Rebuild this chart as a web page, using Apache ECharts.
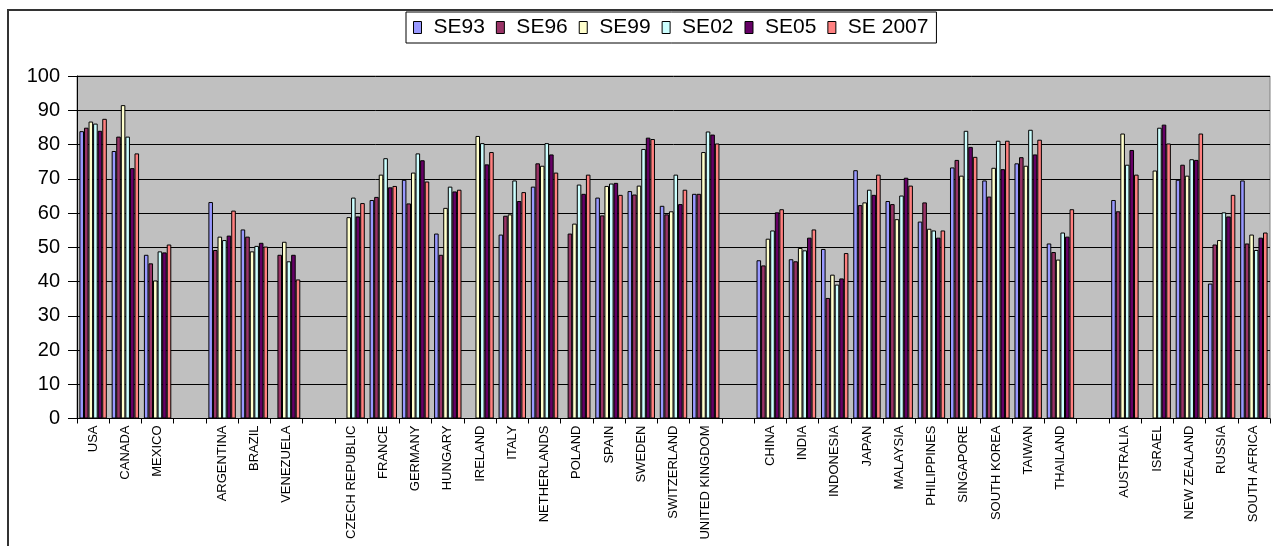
<!DOCTYPE html>
<html>
<head>
<meta charset="utf-8">
<title>SE survey by country</title>
<script src="https://cdn.jsdelivr.net/npm/echarts@6/dist/echarts.min.js"></script>
<style>
  html, body { margin: 0; padding: 0; background: #fff; }
  #chart { width: 1273px; height: 546px; }
</style>
</head>
<body>
<div id="chart"></div>
<script>
// Countries, with blank slots separating the regional groups
const categories = ['USA', 'CANADA', 'MEXICO', '',
  'ARGENTINA', 'BRAZIL', 'VENEZUELA', '',
  'CZECH REPUBLIC', 'FRANCE', 'GERMANY', 'HUNGARY', 'IRELAND', 'ITALY', 'NETHERLANDS',
  'POLAND', 'SPAIN', 'SWEDEN', 'SWITZERLAND', 'UNITED KINGDOM', '',
  'CHINA', 'INDIA', 'INDONESIA', 'JAPAN', 'MALAYSIA', 'PHILIPPINES', 'SINGAPORE',
  'SOUTH KOREA', 'TAIWAN', 'THAILAND', '',
  'AUSTRALIA', 'ISRAEL', 'NEW ZEALAND', 'RUSSIA', 'SOUTH AFRICA'];

const seriesNames = ['SE93', 'SE96', 'SE99', 'SE02', 'SE05', 'SE 2007'];

const se93 = [83.9, 78.1, 47.8, null, 63.2, 55.2, null, null,
  null, 63.8, 69.7, 54.0, null, 53.7, 67.7, null, 64.5, 66.4, 62.1, 65.6, null,
  46.2, 46.5, 49.5, 72.5, 63.5, 57.5, 73.3, 69.5, 74.5, 51.1, null,
  63.8, null, 69.7, 39.4, 69.5];
const se96 = [84.9, 82.3, 45.3, null, 49.2, 53.1, 47.8, null,
  null, 64.7, 62.8, 47.8, null, 59.2, 74.5, 54.0, 59.3, 65.4, 59.6, 65.6, null,
  44.7, 45.9, 35.2, 62.3, 62.6, 63.1, 75.5, 64.8, 76.3, 48.6, null,
  60.5, null, 74.1, 50.8, 51.1];
const se99 = [86.7, 91.5, 40.3, null, 53.1, 48.8, 51.6, null,
  58.8, 71.2, 71.8, 61.5, 82.5, 59.6, 73.8, 56.9, 67.9, 68.0, 60.5, 77.8, null,
  52.5, 49.8, 42.0, 63.1, 58.2, 55.4, 70.9, 73.2, 73.8, 46.4, null,
  83.2, 72.4, 70.9, 52.1, 53.7];
const se02 = [86.1, 82.3, 48.8, null, 52.1, 50.4, 45.9, null,
  64.5, 76.0, 77.4, 67.7, 80.4, 69.5, 80.4, 68.3, 68.6, 78.7, 71.2, 83.8, null,
  54.9, 49.1, 39.1, 66.8, 65.1, 54.9, 84.0, 81.1, 84.3, 54.3, null,
  74.1, 84.9, 75.7, 60.2, 49.2];
const se05 = [84.0, 73.1, 48.5, null, 53.4, 51.3, 47.8, null,
  59.0, 67.5, 75.4, 66.3, 74.2, 63.5, 77.1, 65.6, 68.8, 82.0, 62.6, 82.9, null,
  60.2, 52.8, 40.9, 65.3, 70.3, 52.8, 79.3, 72.8, 77.1, 53.1, null,
  78.4, 85.8, 75.5, 59.0, 52.8];
const se2007 = [87.5, 77.4, 50.8, null, 60.7, 50.2, 40.6, null,
  62.9, 67.9, 69.2, 66.8, 77.8, 66.1, 71.8, 71.2, 65.3, 81.6, 66.8, 80.3, null,
  61.1, 55.2, 48.3, 71.2, 68.0, 54.9, 76.4, 81.1, 81.4, 61.1, null,
  71.2, 80.3, 83.2, 65.3, 54.3];

const seriesValues = [se93, se96, se99, se02, se05, se2007];
const colors = ['#9999FF', '#993366', '#FFFFCC', '#CCFFFF', '#660066', '#FF8080'];

const font = 'Liberation Sans, Arial, sans-serif';

const chart = echarts.init(document.getElementById('chart'), null, { renderer: 'canvas' });

chart.setOption({
  animation: false,
  backgroundColor: '#ffffff',
  textStyle: { fontFamily: font },
  graphic: [{
    type: 'rect',
    silent: true,
    z: -10,
    shape: { x: 8, y: 10, width: 1300, height: 600 },
    style: { fill: 'none', stroke: '#333', lineWidth: 2 }
  }],
  legend: {
    left: 406,
    top: 12,
    padding: [5, 8, 5, 7],
    itemGap: 11,
    itemWidth: 8,
    itemHeight: 12,
    borderColor: '#000',
    borderWidth: 1,
    backgroundColor: '#fff',
    icon: 'rect',
    itemStyle: { borderColor: '#000', borderWidth: 1 },
    textStyle: { fontFamily: font, fontSize: 21, color: '#000', padding: [0, 0, 0, 7] },
    data: seriesNames
  },
  grid: {
    left: 77,
    right: 3,
    top: 76,
    bottom: 127.5,
    show: true,
    backgroundColor: '#C0C0C0',
    borderColor: '#808080',
    borderWidth: 1
  },
  xAxis: {
    type: 'category',
    data: categories,
    boundaryGap: true,
    axisLine: { lineStyle: { color: '#000', width: 1 } },
    axisTick: { show: true, length: 5, interval: 0, lineStyle: { color: '#000' } },
    axisLabel: {
      interval: 0,
      rotate: 90,
      margin: 7,
      fontSize: 13,
      color: '#000',
      fontFamily: font
    },
    splitLine: { show: false }
  },
  yAxis: {
    type: 'value',
    min: 0,
    max: 100,
    interval: 10,
    axisLine: { show: true, lineStyle: { color: '#000', width: 1 } },
    axisTick: { show: true, length: 9, lineStyle: { color: '#000' } },
    axisLabel: { fontSize: 20, color: '#000', margin: 17, fontFamily: font },
    splitLine: { show: true, lineStyle: { color: '#000', width: 1 } }
  },
  series: seriesNames.map((name, i) => ({
    name: name,
    type: 'bar',
    data: seriesValues[i],
    barGap: '0%',
    barCategoryGap: '15%',
    itemStyle: { color: colors[i], borderColor: '#000', borderWidth: 1 }
  }))
});
</script>
</body>
</html>
